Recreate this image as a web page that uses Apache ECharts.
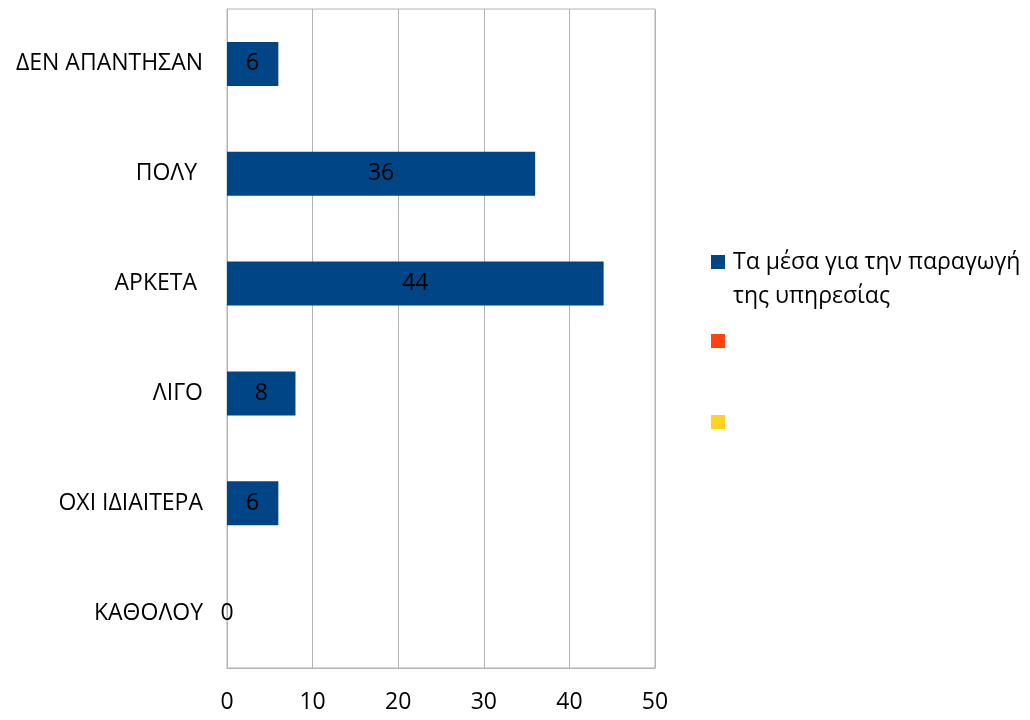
<!DOCTYPE html>
<html>
<head>
<meta charset="utf-8">
<script src="https://cdn.jsdelivr.net/npm/echarts@6/dist/echarts.min.js"></script>
<style>
html,body{margin:0;padding:0;background:#fff;}
#chart{width:1030px;height:720px;}
</style>
</head>
<body>
<div id="chart"></div>
<script>
var categories = ['ΔΕΝ ΑΠΑΝΤΗΣΑΝ', 'ΠΟΛΥ ', 'ΑΡΚΕΤΑ ', 'ΛΙΓΟ', 'ΟΧΙ ΙΔΙΑΙΤΕΡΑ', 'ΚΑΘΟΛΟΥ'];
var seriesNames = ['Τα μέσα για την παραγωγή της υπηρεσίας', ' ', '  '];
var legendLine1 = 'Τα μέσα για την παραγωγή';
var legendLine2 = 'της υπηρεσίας';
var values1 = [6, 36, 44, 8, 6, 0];
var values2 = [null, null, null, null, null, null];
var values3 = [null, null, null, null, null, null];
var xTicks = [0, 10, 20, 30, 40, 50];

var FONT = '"Open Sans", "DejaVu Sans", sans-serif';
var FS = 23;
var colors = ['#004586', '#ff420e', '#ffd320'];

var chart = echarts.init(document.getElementById('chart'), null, {renderer: 'canvas'});

function legendFor(i, centerY, fmt) {
  return {
    show: true,
    data: [seriesNames[i]],
    left: 711,
    top: centerY - 15,
    orient: 'vertical',
    padding: 0,
    itemWidth: 14,
    itemHeight: 14,
    itemGap: 0,
    icon: 'rect',
    selectedMode: false,
    textStyle: {fontFamily: FONT, fontSize: FS, color: '#000', height: 30, lineHeight: 30, padding: [0, 0, 0, 3]},
    formatter: fmt || function () { return ''; }
  };
}

var option = {
  animation: false,
  backgroundColor: '#ffffff',
  color: colors,
  grid: {
    left: 227, right: 375, top: 9, bottom: 52,
    show: true, borderColor: '#b3b3b3', borderWidth: 1, backgroundColor: 'transparent'
  },
  legend: [
    legendFor(0, 262, function () { return legendLine1; }),
    legendFor(1, 341),
    legendFor(2, 422)
  ],
  graphic: [{
    type: 'text',
    left: 733,
    top: 296 - 15,
    style: {text: legendLine2, fontFamily: FONT, fontSize: FS, fill: '#000', lineHeight: 30, verticalAlign: 'top'}
  }],
  xAxis: {
    type: 'value',
    min: xTicks[0],
    max: xTicks[xTicks.length - 1],
    interval: 10,
    axisLine: {show: true, lineStyle: {color: '#b3b3b3', width: 1}},
    axisTick: {show: false},
    splitLine: {show: true, lineStyle: {color: '#b3b3b3', width: 1}},
    axisLabel: {fontFamily: FONT, fontSize: FS, color: '#000', margin: 23}
  },
  yAxis: {
    type: 'category',
    inverse: true,
    data: categories,
    axisLine: {show: true, lineStyle: {color: '#b3b3b3', width: 1}},
    axisTick: {show: false},
    splitLine: {show: false},
    axisLabel: {fontFamily: FONT, fontSize: FS, color: '#000', margin: 24}
  },
  series: [
    {
      name: seriesNames[0], type: 'bar', data: values1,
      barWidth: '40%', barGap: '-100%',
      itemStyle: {color: colors[0]},
      label: {show: true, position: 'inside', color: '#000', fontFamily: FONT, fontSize: FS,
        formatter: function (p) { return String(p.value); }}
    },
    {name: seriesNames[1], type: 'bar', data: values2, barWidth: '40%', barGap: '-100%', itemStyle: {color: colors[1]}},
    {name: seriesNames[2], type: 'bar', data: values3, barWidth: '40%', barGap: '-100%', itemStyle: {color: colors[2]}}
  ]
};
chart.setOption(option);
</script>
</body>
</html>
